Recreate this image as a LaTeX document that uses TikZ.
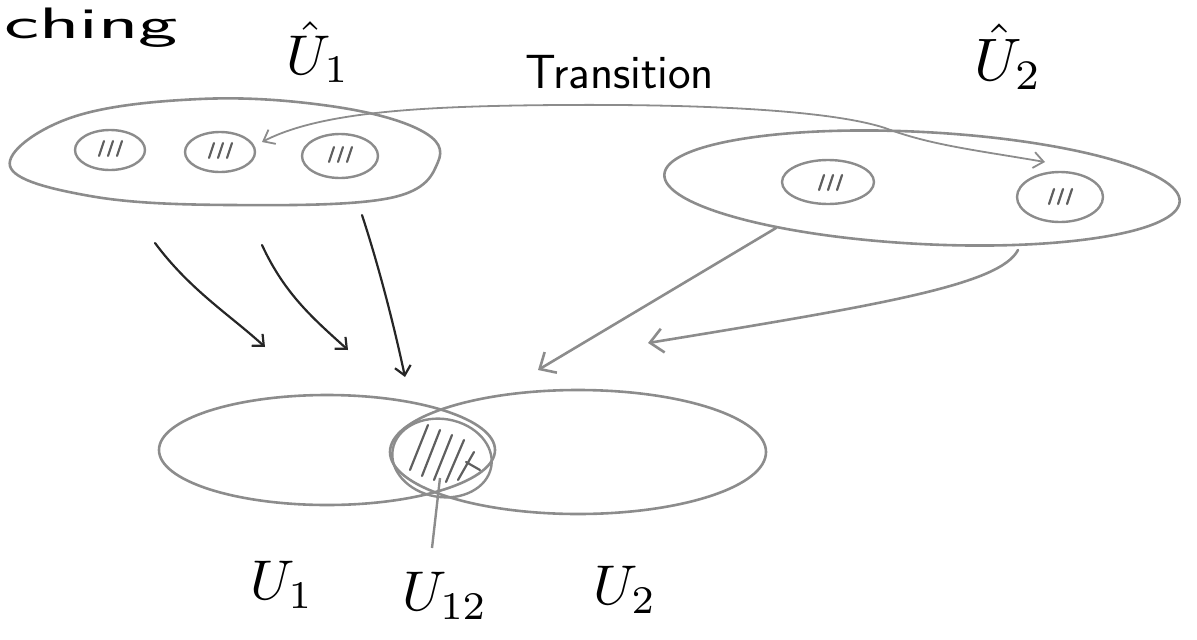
\documentclass[tikz,border=0pt]{standalone}
\usetikzlibrary{arrows.meta,calc,shapes.geometric}
\definecolor{skgray}{RGB}{140,140,140}
\definecolor{skdark}{RGB}{95,95,95}
\newcommand{\skhatch}[2]{\begin{scope}[shift={(#1,#2)}]\draw[hatchline] (-11,8)--(-6,-7) (-2,8)--(3,-7) (7,8)--(12,-7);\end{scope}}
\begin{document}
\begin{tikzpicture}[x=1pt,y=-1pt,
  blob/.style={ellipse, draw=skgray, line width=2.6pt, inner sep=0pt},
  small/.style={ellipse, draw=skgray, line width=2.4pt, inner sep=0pt},
  inkarrow/.style={draw=black!85, line width=2.2pt, line cap=round, -{Straight Barb[length=9pt,width=16pt,line width=2.2pt]}},
  grayarrow/.style={draw=skgray, line width=2.6pt, line cap=round, -{Straight Barb[length=13pt,width=24pt,line width=2.6pt]}},
  transline/.style={draw=skgray, line width=1.8pt, {Straight Barb[length=10pt,width=16pt,line width=1.8pt]}-{Straight Barb[length=10pt,width=16pt,line width=1.8pt]}},
  hatchline/.style={draw=skdark, line width=2.2pt, line cap=round},
  lab/.style={text=black, inner sep=0pt}]
\useasboundingbox (0,0) rectangle (1197,640);

% title fragment
\node[lab, anchor=base west, font=\sffamily\fontsize{44}{50}\selectfont] (title) at (4,38) {\scalebox{1.9}[1]{ching}};

% upper sets (outline drawn by hand, nodes keep the names)
\node[minimum width=432pt, minimum height=106pt, inner sep=0pt] (Uh1) at (225,152) {};
\draw[draw=skgray, line width=2.6pt] plot[smooth cycle, tension=0.65] coordinates {(10,166) (70,118) (200,99) (330,106) (420,130) (438,162) (390,198) (230,205) (90,196)};
\node[blob, minimum width=516pt, minimum height=112pt, rotate=-3] (Uh2) at (922,188) {};

\node[small, minimum width=70pt, minimum height=40pt] (s11) at (110,150) {};
\node[small, minimum width=70pt, minimum height=40pt] (s12) at (220,152) {};
\node[small, minimum width=76pt, minimum height=44pt] (s13) at (340,156) {};
\node[small, minimum width=92pt, minimum height=44pt] (s21) at (828,182) {};
\node[small, minimum width=86pt, minimum height=50pt] (s22) at (1060,197) {};
\skhatch{110}{148}
\skhatch{220}{150}
\skhatch{340}{154}
\skhatch{830}{182}
\skhatch{1060}{196}

% labels above
\node[lab] (lUh1) at (318,52) {\scalebox{5.6}{$\hat{U}_{1}$}};
\node[lab] (lUh2) at (1008,57) {\scalebox{6}{$\hat{U}_{2}$}};
\node[lab, font=\sffamily\fontsize{48}{54}\selectfont] (trans) at (620,72) {Transition};

% transition map
\coordinate (tl) at (262,142);
\coordinate (tr) at (1045,162);
\draw[transline] (tl) .. controls (320,112) and (420,106) .. (560,105)
  .. controls (700,104) and (830,110) .. (885,128)
  .. controls (930,145) and (975,150) .. (tr);

% lower sets
\node[blob, minimum width=336pt, minimum height=110pt] (U1) at (327,450) {};
\node[blob, minimum width=376pt, minimum height=124pt] (U2) at (578,452) {};
\node[small, draw=skgray, minimum width=100pt, minimum height=78pt, rotate=-10] (lens) at (442,458) {};
\begin{scope}
\clip (lens.center) ellipse [x radius=48pt, y radius=37pt];
\draw[hatchline] (410,470)--(428,425) (422,476)--(440,430) (434,480)--(452,435) (446,482)--(464,440) (458,480)--(474,452) (466,462)--(480,470);
\end{scope}

% projections from U1hat
\coordinate (a1s) at (155,243); \coordinate (a1e) at (265,347);
\coordinate (a2s) at (262,245); \coordinate (a2e) at (348,350);
\coordinate (a3s) at (362,215); \coordinate (a3e) at (405,377);
\draw[inkarrow] (a1s) .. controls (190,290) and (230,315) .. (a1e);
\draw[inkarrow] (a2s) .. controls (285,295) and (315,320) .. (a2e);
\draw[inkarrow] (a3s) .. controls (380,270) and (395,330) .. (a3e);

% projections from U2hat
\coordinate (b1s) at (776,228); \coordinate (b1e) at (538,370);
\coordinate (b2s) at (1018,250); \coordinate (b2e) at (648,343);
\draw[grayarrow] (b1s) -- (b1e);
\draw[grayarrow] (b2s) .. controls (1000,285) and (880,305) .. (b2e);

% labels below
\node[lab] (lU1) at (282,585) {\scalebox{5.6}{$U_{1}$}};
\node[lab] (lU12) at (445,596) {\scalebox{5.6}{$U_{12}$}};
\node[lab] (lU2) at (625,590) {\scalebox{5.6}{$U_{2}$}};
\coordinate (ptr) at (432,548);
\draw[draw=skgray, line width=2.4pt] (ptr) -- ($(lens.center)+(-2,20)$);
\end{tikzpicture}
\end{document}
